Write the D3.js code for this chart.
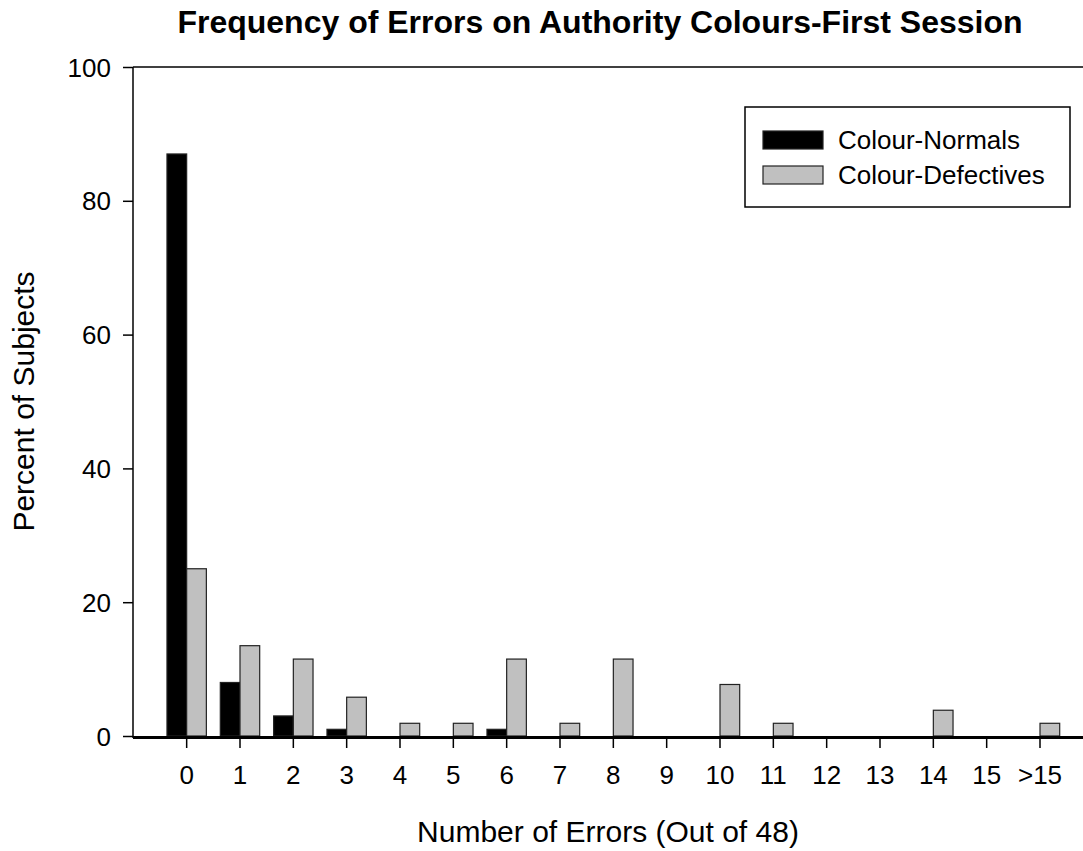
<!DOCTYPE html>
<html>
<head>
<meta charset="utf-8">
<script src="https://cdn.jsdelivr.net/npm/d3@7"></script>
<style>
  body { margin: 0; background: #fff; }
  text { font-family: Arial, "Liberation Sans", sans-serif; fill: #000; }
</style>
</head>
<body>
<div id="chart"></div>
<script>
// Chart dimensions.
var width = 1083;
var height = 851;

// Data: percent of subjects per number of errors.
var categories = ["0", "1", "2", "3", "4", "5", "6", "7", "8", "9", "10", "11", "12", "13", "14", "15", ">15"];
var seriesNames = ["Colour-Normals", "Colour-Defectives"];
var normals = [87, 8, 3, 1, 0, 0, 1, 0, 0, 0, 0, 0, 0, 0, 0, 0, 0];
var defectives = [25, 13.5, 11.5, 5.8, 1.9, 1.9, 11.5, 1.9, 11.5, 0, 7.7, 1.9, 0, 0, 3.85, 0, 1.9];
var yTicks = [0, 20, 40, 60, 80, 100];

var colors = { "Colour-Normals": "#000000", "Colour-Defectives": "#c0c0c0" };

// Plot area.
var plot = { left: 133, top: 67, bottom: 736, right: 1083 };

var svg = d3.select("#chart").append("svg")
    .attr("width", width)
    .attr("height", height);

var x = d3.scaleBand()
    .domain(categories)
    .range([160, 1066.67])
    .padding(0);

var xSub = d3.scaleBand()
    .domain(seriesNames)
    .range([0, x.bandwidth()])
    .paddingOuter(0.354)
    .paddingInner(0);

var y = d3.scaleLinear()
    .domain([0, 100])
    .range([plot.bottom, plot.top]);

var rows = categories.map(function(c, i) {
  return { cat: c, values: [
    { name: seriesNames[0], value: normals[i] },
    { name: seriesNames[1], value: defectives[i] }
  ]};
});

// Bars
var groups = svg.append("g").selectAll("g")
    .data(rows)
    .enter().append("g")
    .attr("transform", function(d) { return "translate(" + x(d.cat) + ",0)"; });

groups.selectAll("rect")
    .data(function(d) { return d.values.filter(function(v) { return v.value > 0; }); })
    .enter().append("rect")
    .attr("x", function(d) { return xSub(d.name); })
    .attr("y", function(d) { return y(d.value); })
    .attr("width", xSub.bandwidth())
    .attr("height", function(d) { return y(0) - y(d.value); })
    .style("fill", function(d) { return colors[d.name]; })
    .style("stroke", "#222")
    .style("stroke-width", 1.2);

// Y axis
var yAxis = d3.axisLeft(y)
    .tickValues(yTicks)
    .tickSize(10)
    .tickPadding(12);

var gy = svg.append("g")
    .attr("transform", "translate(" + plot.left + ",0)")
    .call(yAxis);
gy.select(".domain").remove();
gy.selectAll(".tick line").style("stroke", "#000").style("stroke-width", 1.5);
gy.selectAll(".tick text")
    .style("font-size", "26px")
    .attr("dy", "0.35em");

svg.append("line")
    .attr("x1", plot.left).attr("x2", plot.left)
    .attr("y1", plot.top).attr("y2", plot.bottom + 2)
    .style("stroke", "#000").style("stroke-width", 1.5);

// top frame line
svg.append("line")
    .attr("x1", plot.left).attr("x2", plot.right)
    .attr("y1", y(100)).attr("y2", y(100))
    .style("stroke", "#000").style("stroke-width", 1.5);

// X axis
var xAxis = d3.axisBottom(x)
    .tickSize(10)
    .tickPadding(18);

var gx = svg.append("g")
    .attr("transform", "translate(0," + (plot.bottom + 2) + ")")
    .call(xAxis);
gx.select(".domain").remove();
gx.selectAll(".tick line").style("stroke", "#000").style("stroke-width", 1.5);
gx.selectAll(".tick text").style("font-size", "26px");

svg.append("line")
    .attr("x1", plot.left).attr("x2", plot.right)
    .attr("y1", plot.bottom + 1.5).attr("y2", plot.bottom + 1.5)
    .style("stroke", "#000").style("stroke-width", 3);

// Titles
svg.append("text")
    .attr("x", 600)
    .attr("y", 33)
    .attr("text-anchor", "middle")
    .style("font-size", "32px")
    .style("font-weight", "bold")
    .text("Frequency of Errors on Authority Colours-First Session");

svg.append("text")
    .attr("x", 608)
    .attr("y", 842)
    .attr("text-anchor", "middle")
    .style("font-size", "30px")
    .text("Number of Errors (Out of 48)");

svg.append("text")
    .attr("transform", "translate(34," + ((plot.top + plot.bottom) / 2) + ") rotate(-90)")
    .attr("text-anchor", "middle")
    .style("font-size", "30px")
    .text("Percent of Subjects");

// Legend
var lg = { x: 745, y: 107, w: 325, h: 100 };
var legend = svg.append("g");
legend.append("rect")
    .attr("x", lg.x).attr("y", lg.y)
    .attr("width", lg.w).attr("height", lg.h)
    .style("fill", "#fff")
    .style("stroke", "#000")
    .style("stroke-width", 1.5);

var li = legend.selectAll("g.item")
    .data(seriesNames)
    .enter().append("g")
    .attr("class", "item")
    .attr("transform", function(d, i) { return "translate(" + (lg.x + 18) + "," + (lg.y + 24 + i * 35) + ")"; });

li.append("rect")
    .attr("width", 60)
    .attr("height", 18)
    .style("fill", function(d) { return colors[d]; })
    .style("stroke", "#222")
    .style("stroke-width", 1.2);

li.append("text")
    .attr("x", 75)
    .attr("y", 9)
    .attr("dy", "0.35em")
    .style("font-size", "26px")
    .text(function(d) { return d; });
</script>
</body>
</html>
